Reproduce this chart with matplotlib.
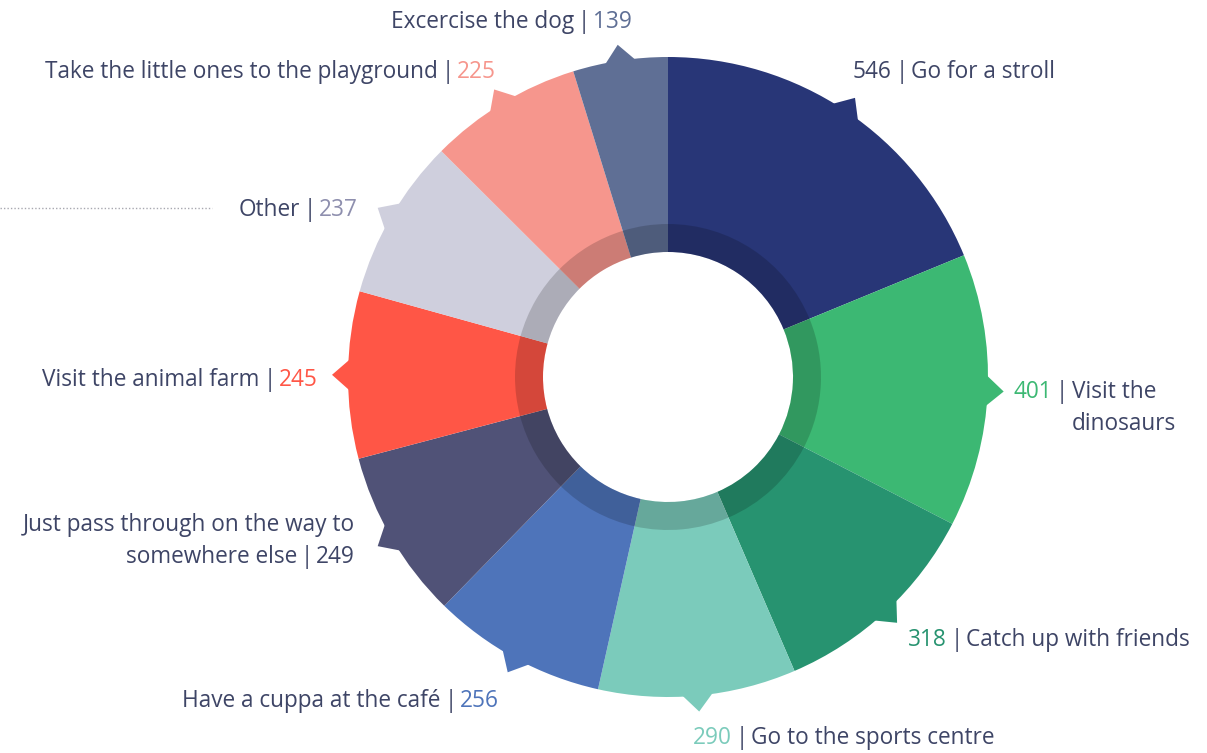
import numpy as np
import matplotlib
matplotlib.use("Agg")
import matplotlib.pyplot as plt
from matplotlib.patches import Polygon

# data, clockwise from 12 o'clock
names = ["Go for a stroll", "Visit the\ndinosaurs", "Catch up with friends",
         "Go to the sports centre", "Have a cuppa at the café",
         "Just pass through on the way to\nsomewhere else",
         "Visit the animal farm", "Other",
         "Take the little ones to the playground", "Excercise the dog"]
values = [546, 401, 318, 290, 256, 249, 245, 237, 225, 139]
colors = ["#283677", "#3cb873", "#279370", "#7bcbbb", "#4e74ba",
          "#505277", "#ff5646", "#cfcfdd", "#f6968d", "#5f6f95"]
num_colors = ["#3e4566", "#3cb873", "#279370", "#7bcbbb", "#4e74ba",
              "#3e4566", "#ff5646", "#8e8fae", "#f6968d", "#5f6f95"]

TXT = "#3e4566"
FS = 16.3
plt.rcParams['font.family'] = ['Open Sans', 'DejaVu Sans']

W, H = 1207, 753
fig = plt.figure(figsize=(W / 100, H / 100), dpi=100)
ax = fig.add_axes([0, 0, 1, 1])

cx, cy = 668, H - 377
R, R_in = 320, 125

wedges, _ = ax.pie(values, colors=colors, startangle=90, counterclock=False,
                   radius=R, center=(cx, cy),
                   wedgeprops=dict(width=R - R_in, linewidth=0))
# darker inner band
ax.pie(values, colors=["black"] * len(values), startangle=90, counterclock=False,
       radius=153, center=(cx, cy),
       wedgeprops=dict(width=153 - R_in, linewidth=0, alpha=0.17))

# little arrow tips on the outer edge
for w, c in zip(wedges, colors):
    mid = np.deg2rad((w.theta1 + w.theta2) / 2)
    d = 18 / 316
    pts = [(cx + 316 * np.cos(mid - d), cy + 316 * np.sin(mid - d)),
           (cx + 336 * np.cos(mid), cy + 336 * np.sin(mid)),
           (cx + 316 * np.cos(mid + d), cy + 316 * np.sin(mid + d))]
    ax.add_patch(Polygon(pts, closed=True, facecolor=c, edgecolor="none"))

GAP = 2.5
LEAD = 6  # extra points between lines


def label_right(x, y, num, name, nc):
    lines = name.split("\n")
    t = ax.text(x, y, str(num), color=nc, fontsize=FS, ha="left", va="center")
    t = ax.annotate("|", xy=(1, 0), xycoords=t, xytext=(GAP, 0),
                    textcoords="offset points", color=TXT, fontsize=FS,
                    ha="left", va="bottom")
    t = ax.annotate(lines[0], xy=(1, 0), xycoords=t, xytext=(GAP, 0),
                    textcoords="offset points", color=TXT, fontsize=FS,
                    ha="left", va="bottom")
    for ln in lines[1:]:
        t = ax.annotate(ln, xy=(0, 0), xycoords=t, xytext=(0, -LEAD),
                        textcoords="offset points", color=TXT, fontsize=FS,
                        ha="left", va="top")


def label_left(x, y, num, name, nc):
    lines = name.split("\n")
    tn = ax.text(x, y, str(num), color=nc, fontsize=FS, ha="right", va="center")
    t = ax.annotate("|", xy=(0, 0), xycoords=tn, xytext=(-GAP, 0),
                    textcoords="offset points", color=TXT, fontsize=FS,
                    ha="right", va="bottom")
    ax.annotate(lines[-1], xy=(0, 0), xycoords=t, xytext=(-GAP, 0),
                textcoords="offset points", color=TXT, fontsize=FS,
                ha="right", va="bottom")
    t = tn
    for ln in lines[-2::-1]:
        t = ax.annotate(ln, xy=(1, 1), xycoords=t, xytext=(0, LEAD),
                        textcoords="offset points", color=TXT, fontsize=FS,
                        ha="right", va="bottom")


# label anchors (pixels from top-left); "r" = text runs right of anchor
anchors = [(853, 72, "r"), (1014, 392, "r"), (908, 640, "r"), (693, 738, "r"),
           (499, 701, "l"), (355, 557, "l"), (318, 380, "l"), (358, 210, "l"),
           (496, 72, "l"), (632, 22, "l")]

for (x, y, side), v, n, nc in zip(anchors, values, names, num_colors):
    if side == "r":
        label_right(x, H - y, v, n, nc)
    else:
        label_left(x, H - y, v, n, nc)

ax.plot([0, 212], [H - 208, H - 208], color="#a8a8b0", lw=1, ls=(0, (1, 1.5)))

ax.set_xlim(0, W)
ax.set_ylim(0, H)
ax.set_aspect("equal")
ax.axis("off")
fig.savefig("out.png", dpi=100, facecolor="white")
